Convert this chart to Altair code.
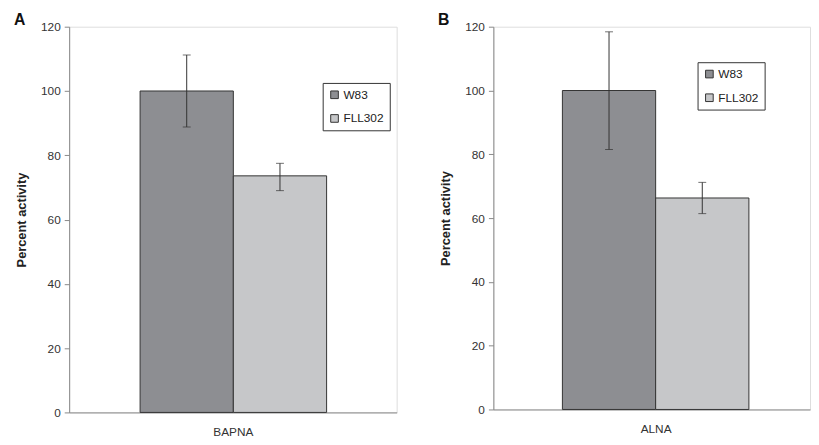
import altair as alt
import pandas as pd

strains = ["W83", "FLL302"]
colors = ["#8d8e92", "#c6c7c9"]

a_assay = "BAPNA"
a_values = [100, 73.6]
a_low = [88.8, 69.0]
a_high = [111.2, 77.5]

b_assay = "ALNA"
b_values = [100, 66.3]
b_low = [81.5, 61.4]
b_high = [118.4, 71.2]

FONT = "Liberation Sans"


def panel(assay, vals, lows, highs, letter, w, h, po, align, legx, legy):
    df = pd.DataFrame({"assay": [assay] * 2, "strain": strains,
                       "value": vals, "low": lows, "high": highs})
    yscale = alt.Scale(domain=[0, 120], nice=False)
    base = alt.Chart(df).encode(
        x=alt.X("assay:N",
                scale=alt.Scale(paddingInner=0, paddingOuter=po, align=align),
                axis=alt.Axis(title=None, labelAngle=0, ticks=False,
                              domainColor="#888888", labelFontSize=12,
                              labelColor="#333333", labelPadding=14,
                              labelFont=FONT)),
        xOffset=alt.XOffset("strain:N", sort=strains,
                            scale=alt.Scale(paddingInner=0, paddingOuter=0)),
    )
    bars = base.mark_bar(stroke="#333333", strokeWidth=1).encode(
        y=alt.Y("value:Q", scale=yscale,
                axis=alt.Axis(values=[0, 20, 40, 60, 80, 100, 120], grid=False,
                              domainColor="#888888", tickColor="#888888",
                              tickSize=5, labelFontSize=12, labelColor="#333333",
                              labelFont=FONT, labelPadding=4,
                              title="Percent activity", titleFont=FONT,
                              titleFontSize=13, titleFontWeight="bold",
                              titleColor="#222222", titlePadding=12)),
        color=alt.Color("strain:N", sort=strains,
                        scale=alt.Scale(domain=strains, range=colors),
                        legend=alt.Legend(orient="none", legendX=legx, legendY=legy,
                                          title=None, strokeColor="#333333",
                                          fillColor="white", padding=6,
                                          symbolType="square", symbolSize=60,
                                          symbolStrokeColor="#333333",
                                          symbolStrokeWidth=1,
                                          labelFontSize=12, labelFont=FONT,
                                          labelColor="#222222", rowPadding=12,
                                          labelOffset=3)),
    )
    rules = base.mark_rule(color="#333333", strokeWidth=1).encode(
        y=alt.Y("low:Q", scale=yscale), y2="high:Q")
    tick_hi = base.mark_tick(color="#333333", size=8, thickness=1).encode(
        y=alt.Y("high:Q", scale=yscale))
    tick_lo = base.mark_tick(color="#333333", size=8, thickness=1).encode(
        y=alt.Y("low:Q", scale=yscale))
    lab = alt.Chart(pd.DataFrame({"t": [letter]})).mark_text(
        font=FONT, fontSize=16, fontWeight="bold", color="#111111", align="left",
        baseline="middle").encode(text="t:N", x=alt.value(-56), y=alt.value(-7))
    return alt.layer(bars, rules, tick_hi, tick_lo, lab).properties(width=w, height=h)


pa = panel(a_assay, a_values, a_low, a_high, "A", 332, 391, 0.378, 0.503, 257, 57)
pb = panel(b_assay, b_values, b_low, b_high, "B", 321, 388, 0.345, 0.534, 207, 36)

chart = alt.hconcat(pa, pb, spacing=98).properties(
    bounds="flush", padding={"left": 5, "top": 0, "right": 0, "bottom": 0}
).resolve_scale(color="independent").resolve_legend(color="independent").configure_view(
    stroke=None).configure(background="white")

chart.save("out.html", embed_options={"renderer": "svg", "actions": False})
